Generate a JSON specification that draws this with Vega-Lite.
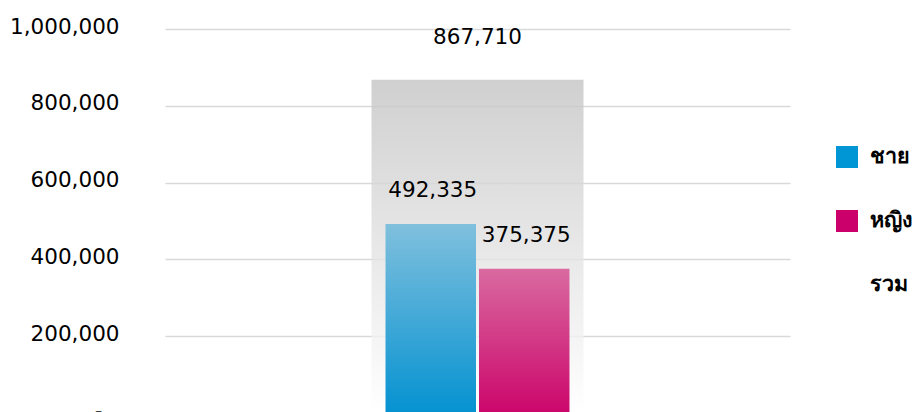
{
  "$schema": "https://vega.github.io/schema/vega-lite/v6.json",
  "width": 625,
  "height": 384,
  "autosize": {"type": "none"},
  "padding": {"left": 165, "top": 29, "right": 132, "bottom": 0},
  "background": "white",
  "config": {"view": {"stroke": null}, "font": "DejaVu Sans"},
  "data": {
    "values": [
      {"cat": "all", "series": "ชาย", "value": 492335},
      {"cat": "all", "series": "หญิง", "value": 375375},
      {"cat": "all", "series": "รวม", "value": 867710}
    ]
  },
  "encoding": {
    "x": {"field": "cat", "type": "nominal", "axis": null, "scale": {"paddingInner": 0, "paddingOuter": 0.974}},
    "y": {
      "field": "value",
      "type": "quantitative",
      "scale": {"domain": [0, 1000000], "nice": false},
      "axis": {
        "title": null,
        "values": [0, 200000, 400000, 600000, 800000, 1000000],
        "labelExpr": "datum.value === 0 ? '-' : format(datum.value, ',')",
        "ticks": false,
        "domain": false,
        "labelPadding": {"condition": {"test": "datum.value === 0", "value": 63}, "value": 46},
        "labelFontSize": 21.5,
        "labelFont": "DejaVu Sans",
        "labelColor": "#000000",
        "gridColor": "#d9d9d9",
        "gridWidth": 1.5,
        "labelBaseline": "alphabetic",
        "labelOffset": 4
      }
    }
  },
  "layer": [
    {
      "transform": [{"filter": "datum.series === 'รวม'"}],
      "mark": {
        "type": "bar",
        "opacity": 0.8,
        "fill": {"gradient": "linear", "x1": 0, "y1": 0, "x2": 0, "y2": 1,
          "stops": [{"offset": 0, "color": "#c4c4c4"}, {"offset": 1, "color": "#ffffff"}]}
      }
    },
    {
      "transform": [{"filter": "datum.series === 'ชาย'"}],
      "mark": {
        "type": "bar",
        "fill": {"gradient": "linear", "x1": 0, "y1": 0, "x2": 0, "y2": 1,
          "stops": [{"offset": 0, "color": "#80c0dd"}, {"offset": 1, "color": "#0592d1"}]}
      },
      "encoding": {
        "xOffset": {"field": "series", "type": "nominal", "scale": {"domain": ["ชาย", "หญิง"], "paddingInner": 0.032, "paddingOuter": 0.15}}
      }
    },
    {
      "transform": [{"filter": "datum.series === 'หญิง'"}],
      "mark": {
        "type": "bar",
        "fill": {"gradient": "linear", "x1": 0, "y1": 0, "x2": 0, "y2": 1,
          "stops": [{"offset": 0, "color": "#d96aa0"}, {"offset": 1, "color": "#cc066b"}]}
      },
      "encoding": {
        "xOffset": {"field": "series", "type": "nominal"}
      }
    },
    {
      "transform": [{"filter": "datum.series !== 'รวม'"}],
      "mark": {"type": "text", "baseline": "alphabetic", "dy": -27, "dx": 2, "fontSize": 21.5, "font": "DejaVu Sans", "color": "#000000"},
      "encoding": {
        "xOffset": {"field": "series", "type": "nominal"},
        "text": {"field": "value", "type": "quantitative", "format": ","}
      }
    },
    {
      "transform": [{"filter": "datum.series === 'รวม'"}],
      "mark": {"type": "text", "baseline": "alphabetic", "dy": -36, "fontSize": 21.5, "font": "DejaVu Sans", "color": "#000000"},
      "encoding": {
        "text": {"field": "value", "type": "quantitative", "format": ","}
      }
    },
    {
      "mark": {"type": "square", "size": 0, "opacity": 1},
      "encoding": {
        "color": {
          "field": "series",
          "type": "nominal",
          "scale": {"domain": ["ชาย", "หญิง", "รวม"], "range": ["#0095d5", "#cc006b", "transparent"]},
          "legend": {
            "orient": "none",
            "legendX": 671,
            "legendY": 117,
            "title": null,
            "symbolType": "square",
            "symbolSize": 484,
            "symbolStrokeWidth": 0,
            "labelFontSize": 21.5,
            "labelFont": "DejaVu Sans",
            "labelFontWeight": "bold",
            "labelColor": "#000000",
            "labelOffset": 12,
            "rowPadding": 42,
            "padding": 0
          }
        }
      }
    }
  ]
}
